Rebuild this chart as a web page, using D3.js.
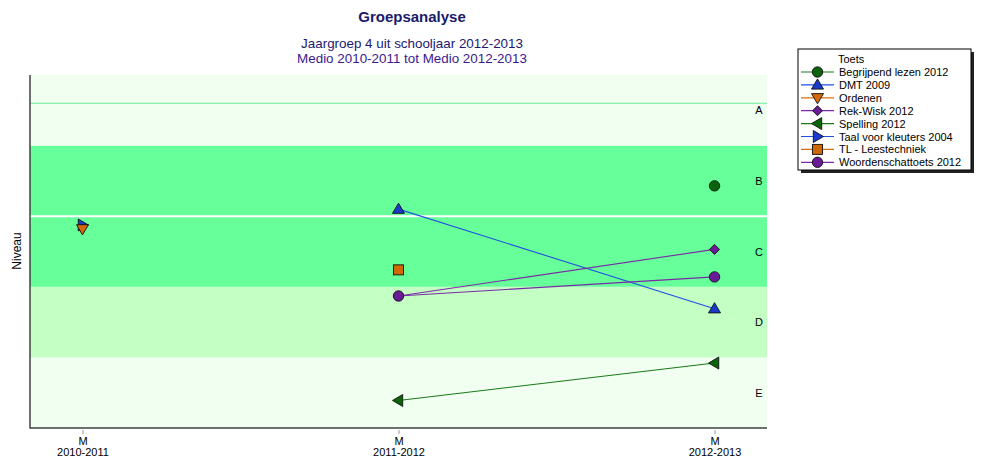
<!DOCTYPE html>
<html><head><meta charset="utf-8">
<script src="https://cdn.jsdelivr.net/npm/d3@7"></script>
<style>body{margin:0;background:#fff;}svg{display:block;font-family:"Liberation Sans",Arial,sans-serif;}</style>
</head><body>
<svg id="c" width="984" height="469"></svg>
<script>
const periods = ["2010-2011", "2011-2012", "2012-2013"];
const periodPrefix = "M";
const levels = ["E", "D", "C", "B", "A"];
const seriesNames = ["Begrijpend lezen 2012", "DMT 2009", "Ordenen", "Rek-Wisk 2012", "Spelling 2012", "Taal voor kleuters 2004", "TL - Leestechniek", "Woordenschattoets 2012"];
const begrijpend = [null, null, 3.43];
const dmt = [null, 3.10, 1.69];
const ordenen = [2.82, null, null];
const rekWisk = [null, 1.87, 2.53];
const spelling = [null, 0.39, 0.92];
const taal = [2.875, null, null];
const tlLees = [null, 2.24, null];
const woordenschat = [null, 1.87, 2.14];
const refLine = 4.6;
const title = "Groepsanalyse";
const subtitles = ["Jaargroep 4 uit schooljaar 2012-2013", "Medio 2010-2011 tot Medio 2012-2013"];
const legendTitle = "Toets";
const yLabel = "Niveau";

const styles = [
  {shape: "circle", fill: "#0a650a", line: "#1a7a1a"},
  {shape: "triUp", fill: "#1a3acc", line: "#2050e0"},
  {shape: "triDown", fill: "#d5680a", line: "#d5700a"},
  {shape: "diamond", fill: "#6a1a96", line: "#7a2aa6"},
  {shape: "triLeft", fill: "#0a650a", line: "#1a7a1a"},
  {shape: "triRight", fill: "#1a3acc", line: "#2050e0"},
  {shape: "square", fill: "#d06800", line: "#d07010"},
  {shape: "circle", fill: "#6a1a96", line: "#7a2aa6"}
];
const allValues = [begrijpend, dmt, ordenen, rekWisk, spelling, taal, tlLees, woordenschat];

const svg = d3.select("#c");
const L = 30, R = 767, T = 75, B = 428;
const x = d3.scalePoint().domain(periods).range([L, R]).padding(0.166);
const y = d3.scaleLinear().domain([0, 5]).range([B, T]);

// bands
const bandColors = ["#f0fff0", "#c4ffc4", "#66ff99", "#66ff99", "#f0fff0"];
levels.forEach((lv, i) => {
  svg.append("rect").attr("x", L).attr("y", y(i + 1)).attr("width", R - L).attr("height", y(i) - y(i + 1)).attr("fill", bandColors[i]);
  svg.append("text").attr("x", 759).attr("y", (y(i) + y(i + 1)) / 2 + 4).attr("text-anchor", "middle").attr("font-size", 11).attr("fill", "#000").text(lv);
});
svg.append("line").attr("x1", L).attr("x2", R).attr("y1", y(3)).attr("y2", y(3)).attr("stroke", "#fff").attr("stroke-width", 2);
svg.append("line").attr("x1", L).attr("x2", R).attr("y1", y(refLine)).attr("y2", y(refLine)).attr("stroke", "#66ee99").attr("stroke-width", 1);

// axes
svg.append("line").attr("x1", L).attr("x2", L).attr("y1", T).attr("y2", B + 0.5).attr("stroke", "#404040").attr("stroke-width", 1.5);
const xAxis = svg.append("g").attr("transform", `translate(0,${B})`).call(d3.axisBottom(x).tickSize(5).tickFormat(""));
xAxis.select(".domain").attr("stroke", "#404040").attr("stroke-width", 1.5).attr("d", `M${L},0H${R}`);
xAxis.selectAll(".tick line").attr("stroke", "#999").attr("y1", 2).attr("y2", 6);
xAxis.selectAll(".tick").each(function (d) {
  const g = d3.select(this);
  g.append("text").attr("y", 17).attr("text-anchor", "middle").attr("font-size", 11).attr("fill", "#000").text(periodPrefix);
  g.append("text").attr("y", 28).attr("text-anchor", "middle").attr("font-size", 11).attr("fill", "#000").text(d);
});

svg.append("text").attr("transform", "translate(21,251) rotate(-90)").attr("text-anchor", "middle").attr("font-size", 12).attr("fill", "#000").text(yLabel);

// titles
svg.append("text").attr("x", 412).attr("y", 22).attr("text-anchor", "middle").attr("font-size", 15).attr("font-weight", "bold").attr("fill", "#1a1a6a").text(title);
const subColors = ["#22186e", "#3a1a90"];
subtitles.forEach((s, i) => svg.append("text").attr("x", 412).attr("y", 47.5 + i * 15.5).attr("text-anchor", "middle").attr("font-size", 13.4).attr("fill", subColors[i]).text(s));

function marker(g, shape, cx, cy, fill) {
  const s = 6;
  let el;
  if (shape === "circle") el = g.append("circle").attr("cx", cx).attr("cy", cy).attr("r", 5.2);
  else if (shape === "square") el = g.append("rect").attr("x", cx - 5).attr("y", cy - 5).attr("width", 10).attr("height", 10);
  else {
    const pts = {
      triUp: [[0, -s], [s, s * 0.7], [-s, s * 0.7]],
      triDown: [[0, s], [s, -s * 0.7], [-s, -s * 0.7]],
      triLeft: [[-s, 0], [s * 0.7, -s], [s * 0.7, s]],
      triRight: [[s, 0], [-s * 0.7, -s], [-s * 0.7, s]],
      diamond: [[0, -5], [5, 0], [0, 5], [-5, 0]]
    }[shape];
    el = g.append("polygon").attr("points", pts.map(p => [cx + p[0], cy + p[1]].join(",")).join(" "));
  }
  el.attr("fill", fill).attr("stroke", "#111").attr("stroke-width", 0.9);
}

// series lines
const line = d3.line().defined(d => d.v != null).x(d => x(d.p)).y(d => y(d.v));
allValues.forEach((vals, i) => {
  const data = periods.map((p, j) => ({p, v: vals[j]}));
  svg.append("path").datum(data).attr("d", line).attr("fill", "none").attr("stroke", styles[i].line).attr("stroke-width", 1.1);
});
// markers
const order = [0, 1, 5, 2, 3, 4, 6, 7];
order.forEach(i => {
  const g = svg.append("g");
  periods.forEach((p, j) => { if (allValues[i][j] != null) marker(g, styles[i].shape, x(p), y(allValues[i][j]), styles[i].fill); });
});

// legend
const lg = svg.append("g");
lg.append("rect").attr("x", 801).attr("y", 52).attr("width", 173).attr("height", 121).attr("fill", "#222");
lg.append("rect").attr("x", 798).attr("y", 49).attr("width", 173).attr("height", 121).attr("fill", "#fff").attr("stroke", "#000").attr("stroke-width", 1);
lg.append("text").attr("x", 838).attr("y", 63).attr("font-size", 11).attr("fill", "#000").text(legendTitle);
seriesNames.forEach((n, i) => {
  const cy = 72 + i * 12.9;
  lg.append("line").attr("x1", 801).attr("x2", 834).attr("y1", cy).attr("y2", cy).attr("stroke", styles[i].line).attr("stroke-width", 1.2);
  marker(lg, styles[i].shape, 817.5, cy, styles[i].fill);
  lg.append("text").attr("x", 839).attr("y", cy + 4).attr("font-size", 11).attr("fill", "#000").text(n);
});
</script>
</body></html>
